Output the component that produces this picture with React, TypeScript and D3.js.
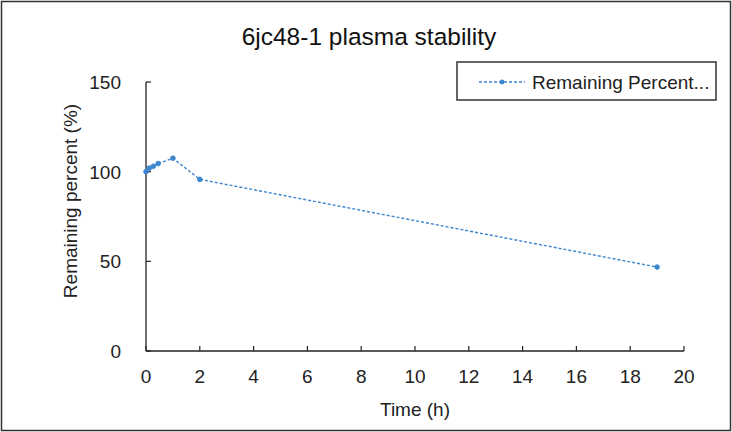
import React from "react";
import * as d3 from "d3";

const times = [0, 0.12, 0.27, 0.45, 1, 2, 19];
const remaining = [100, 102, 103, 104.5, 107.5, 95.7, 46.8];
const xTicks = [0, 2, 4, 6, 8, 10, 12, 14, 16, 18, 20];
const yTicks = [0, 50, 100, 150];
const title = "6jc48-1 plasma stability";
const xLabel = "Time (h)";
const yLabel = "Remaining  percent (%)";
const legendLabel = "Remaining Percent...";

export default function App() {
  const W = 732, H = 432;
  const x = d3.scaleLinear().domain([0, 20]).range([146, 684]);
  const y = d3.scaleLinear().domain([0, 150]).range([351, 82]);
  const data = times.map((t, i) => ({ t, v: remaining[i] }));
  const line = d3.line<{ t: number; v: number }>().x(d => x(d.t)).y(d => y(d.v));
  const color = "#3b86cf";
  const font = "'Liberation Sans', Arial, sans-serif";
  return (
    <svg width={W} height={H} style={{ position: "absolute", left: 0, top: 0 }} fontFamily={font}>
      <rect x={0} y={0} width={W} height={H} fill="#fff" />
      <rect x={1.5} y={1.5} width={W - 3} height={H - 3} fill="none" stroke="#333" strokeWidth={1.5} />
      <text x={369} y={45} textAnchor="middle" fontSize={24.5} fill="#111">{title}</text>
      {/* axes */}
      <line x1={x(0)} x2={x(20)} y1={y(0)} y2={y(0)} stroke="#222" strokeWidth={1.3} />
      <line x1={x(0)} x2={x(0)} y1={y(0)} y2={y(150)} stroke="#222" strokeWidth={1.3} />
      {xTicks.map(t => (
        <g key={"x" + t}>
          <line x1={x(t)} x2={x(t)} y1={y(0)} y2={y(0) - 5} stroke="#222" strokeWidth={1.2} />
          <text x={x(t)} y={y(0) + 32} textAnchor="middle" fontSize={19} fill="#222">{t}</text>
        </g>
      ))}
      {yTicks.map(v => (
        <g key={"y" + v}>
          <line x1={x(0)} x2={x(0) + 5} y1={y(v)} y2={y(v)} stroke="#222" strokeWidth={1.2} />
          <text x={x(0) - 25} y={y(v) + 7} textAnchor="end" fontSize={19} fill="#222">{v}</text>
        </g>
      ))}
      <text x={415} y={416} textAnchor="middle" fontSize={19} fill="#222">{xLabel}</text>
      <text transform={`translate(77,${201}) rotate(-90)`} textAnchor="middle" fontSize={19} fill="#222">{yLabel}</text>
      {/* series */}
      <path d={line(data) || ""} fill="none" stroke={color} strokeWidth={1.4} strokeDasharray="3,2" />
      {data.map((d, i) => (
        <circle key={i} cx={x(d.t)} cy={y(d.v)} r={2.4} fill={color} stroke={color} strokeWidth={0.8} />
      ))}
      {/* legend */}
      <rect x={457} y={62} width={259} height={38} fill="#fff" stroke="#333" strokeWidth={1.5} />
      <line x1={479} x2={525} y1={82} y2={82} stroke={color} strokeWidth={1.4} strokeDasharray="3,2" />
      <circle cx={502} cy={82} r={2.4} fill={color} />
      <text x={532} y={89} fontSize={19} fill="#222">{legendLabel}</text>
    </svg>
  );
}
